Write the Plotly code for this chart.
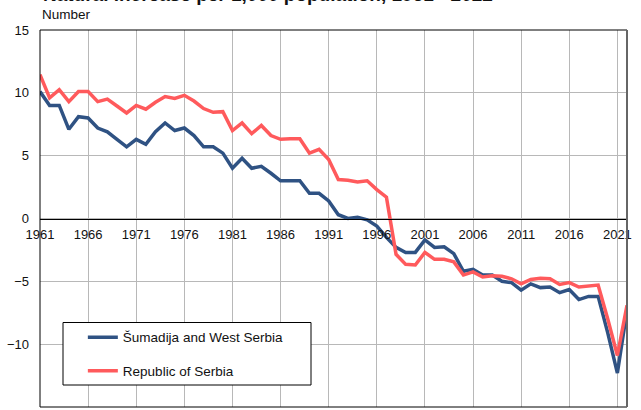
import plotly.graph_objects as go

years = list(range(1961, 2023))
sumadija = [10.1, 9.0, 9.0, 7.1, 8.1, 8.0, 7.2, 6.9, 6.3, 5.7,
            6.3, 5.9, 6.9, 7.6, 7.0, 7.2, 6.6, 5.7, 5.7, 5.2,
            4.0, 4.8, 4.0, 4.15, 3.6, 3.0, 3.0, 3.0, 2.0, 2.0,
            1.4, 0.3, 0.0, 0.1, -0.1, -0.6, -1.5, -2.3, -2.7, -2.7,
            -1.7, -2.3, -2.25, -2.8, -4.2, -4.05, -4.5, -4.5, -5.0, -5.1,
            -5.7, -5.2, -5.5, -5.45, -5.9, -5.65, -6.45, -6.2, -6.2, -9.1,
            -12.3, -7.3]
serbia = [11.45, 9.6, 10.25, 9.3, 10.1, 10.1, 9.3, 9.5, 8.95, 8.4,
          9.0, 8.7, 9.25, 9.7, 9.55, 9.8, 9.35, 8.75, 8.45, 8.5,
          7.0, 7.6, 6.75, 7.4, 6.6, 6.3, 6.35, 6.35, 5.2, 5.5,
          4.7, 3.1, 3.05, 2.9, 3.0, 2.3, 1.7, -2.85, -3.65, -3.7,
          -2.7, -3.25, -3.25, -3.45, -4.5, -4.25, -4.65, -4.55, -4.6, -4.8,
          -5.2, -4.85, -4.75, -4.8, -5.25, -5.1, -5.45, -5.4, -5.3, -8.0,
          -10.9, -6.9]
x_ticks = list(range(1961, 2022, 5))
y_ticks = [-15, -10, -5, 0, 5, 10, 15]

FONT = "Liberation Sans, Arial, sans-serif"

fig = go.Figure()
fig.add_trace(go.Scatter(x=years, y=sumadija, mode="lines", name="Šumadija and West Serbia",
                         line=dict(color="#2F5283", width=3.5), legendgroup="a"))
fig.add_trace(go.Scatter(x=years, y=serbia, mode="lines", name="Republic of Serbia",
                         line=dict(color="#FF5A5C", width=3.5), legendgroup="b"))

fig.update_layout(
    width=641, height=410,
    margin=dict(l=40, r=14, t=30, b=3, autoexpand=False),
    paper_bgcolor="white", plot_bgcolor="white",
    font=dict(family=FONT, size=13, color="#111"),
    showlegend=True,
    legend=dict(x=0.073, y=0.2256, xanchor="left", yanchor="top",
                bgcolor="rgba(0,0,0,0)", borderwidth=0,
                font=dict(size=13.5, color="#111"), tracegroupgap=13),
    xaxis=dict(range=[1961, 2022], tickvals=x_ticks, showgrid=True, automargin=False,
               gridcolor="#b8b8b8", gridwidth=1, anchor="free", position=0.5,
               showline=True, linecolor="black", linewidth=1, ticks="",
               ticklabelstandoff=4, tickfont=dict(size=13), zeroline=False),
    yaxis=dict(range=[-15, 15], tickvals=y_ticks, showgrid=True, automargin=False,
               gridcolor="#b8b8b8", gridwidth=1, zeroline=False, ticks="",
               ticklabelstandoff=10, tickfont=dict(size=13)),
    shapes=[
        dict(type="rect", xref="paper", yref="paper", x0=0, x1=1, y0=0, y1=1,
             line=dict(color="black", width=1), fillcolor="rgba(0,0,0,0)", layer="above"),
        dict(type="line", xref="paper", yref="paper", x0=1, x1=1, y0=0, y1=1,
             line=dict(color="#666", width=2), layer="above"),
        dict(type="rect", xref="paper", yref="paper",
             x0=(63 - 40) / 587, x1=(311 - 40) / 587,
             y0=(407 - 385) / 377, y1=(407 - 322.5) / 377,
             line=dict(color="black", width=1), fillcolor="white", layer="above"),
    ],
    annotations=[
        dict(text="<b>Natural increase per 1,000 population, 1961 - 2022</b>",
             xref="paper", yref="paper", x=(41 - 40) / 587, y=(407 + 5) / 377,
             xanchor="left", yanchor="middle", showarrow=False,
             font=dict(size=19, color="#111")),
        dict(text="Number", xref="paper", yref="paper", x=(40 - 40) / 587, y=(407 - 14.5) / 377,
             xanchor="left", yanchor="middle", showarrow=False,
             font=dict(size=13.5, color="#111")),
    ],
)

fig.write_html("out.html", config={"displayModeBar": False},
               post_script="document.body.style.margin='0px';")
